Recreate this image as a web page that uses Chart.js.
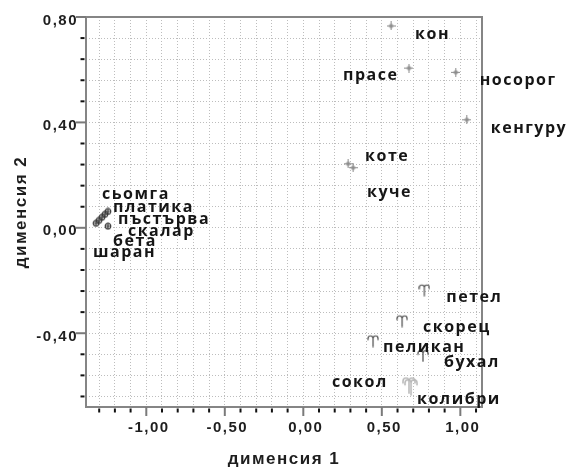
<!DOCTYPE html>
<html>
<head>
<meta charset="utf-8">
<script src="https://cdn.jsdelivr.net/npm/chart.js@4/dist/chart.umd.min.js"></script>
<style>
  html, body { margin: 0; padding: 0; background: #fff; }
  canvas { display: block; }
</style>
</head>
<body>
<canvas id="mds" width="567" height="468"></canvas>
<script>
// Object coordinates in the two-dimensional space
const animals = ['кон', 'прасе', 'носорог', 'кенгуру', 'коте', 'куче',
                 'сьомга', 'платика', 'пъстърва', 'скалар', 'бета', 'шаран',
                 'петел', 'скорец', 'пеликан', 'бухал', 'сокол', 'колибри'];
const dim1 = [0.559, 0.673, 0.971, 1.041, 0.285, 0.317,
              -1.282, -1.263, -1.244, -1.244, -1.301, -1.320,
              0.771, 0.629, 0.444, 0.762, 0.673, 0.686];
const dim2 = [0.766, 0.606, 0.590, 0.410, 0.243, 0.228,
              0.040, 0.051, 0.062, 0.006, 0.028, 0.017,
              -0.235, -0.352, -0.428, -0.484, -0.594, -0.601];
const kinds = ['mammal', 'mammal', 'mammal', 'mammal', 'mammal', 'mammal',
               'fish', 'fish', 'fish', 'fish', 'fish', 'fish',
               'bird', 'bird', 'bird', 'bird', 'birdLight', 'birdLight'];

// Axis ticks
const xMajorTicks = [-1, -0.5, 0, 0.5, 1];
const xTickLabels = ['-1,00', '-0,50', '0,00', '0,50', '1,00'];
const yMajorTicks = [0.8, 0.4, 0, -0.4];
const yTickLabels = ['0,80', '0,40', '0,00', '-0,40'];

// Label placement relative to each marker (pixels: dx to text start, dy to text middle)
const labelOffsets = [[24, 9], [-66, 7], [24, 8], [24, 9], [17, -7], [14, 25],
                      [0, -23], [8, -7], [10, 8.5], [20, 5], [14, 21], [-3, 29.5],
                      [22, 8], [21, 7], [10, 7], [21, 7], [-77, -1.5], [6, 13]];

// ---- marker glyphs ----
function makeCanvas(w, h, draw) {
  const c = document.createElement('canvas');
  c.width = w; c.height = h;
  draw(c.getContext('2d'), w, h);
  return c;
}
// ram-horn symbol: a stem with two rounded horns hanging outward
function ariesPath(g, w, h) {
  const cx = w / 2, r = (w - 2) / 4, y0 = h * 0.34;
  g.beginPath();
  g.moveTo(cx, h - 0.5);
  g.lineTo(cx, y0);
  g.arc(cx - r, y0, r, 0, Math.PI, true);
  g.lineTo(cx - 2 * r, y0 + h * 0.12);
  g.moveTo(cx, y0);
  g.arc(cx + r, y0, r, Math.PI, 0, false);
  g.lineTo(cx + 2 * r, y0 + h * 0.12);
  g.stroke();
}
const markers = {
  mammal: makeCanvas(9, 9, (g) => {
    g.fillStyle = '#a3a3a3';
    g.beginPath();
    g.moveTo(4.5, 1.5); g.lineTo(7.5, 4.5); g.lineTo(4.5, 7.5); g.lineTo(1.5, 4.5);
    g.closePath(); g.fill();
    g.strokeStyle = '#8c8c8c'; g.lineWidth = 1;
    g.beginPath(); g.moveTo(4.5, 0); g.lineTo(4.5, 9); g.moveTo(0, 4.5); g.lineTo(9, 4.5); g.stroke();
  }),
  fish: makeCanvas(8, 8, (g) => {
    g.strokeStyle = '#3a3a3a'; g.lineWidth = 1.2;
    g.beginPath(); g.arc(4, 4, 2.8, 0, Math.PI * 2); g.stroke();
    g.beginPath(); g.moveTo(4, 1.5); g.lineTo(4, 6.5); g.moveTo(1.5, 4); g.lineTo(6.5, 4); g.stroke();
  }),
  bird: makeCanvas(12, 14, (g, w, h) => {
    g.strokeStyle = '#4a4a4a'; g.lineWidth = 1.2; ariesPath(g, w, h);
  }),
  birdLight: makeCanvas(14, 20, (g, w, h) => {
    g.strokeStyle = '#b8b8b8'; g.lineWidth = 1.5; ariesPath(g, w, h);
  })
};

const kindOrder = ['mammal', 'fish', 'bird', 'birdLight'];
const datasets = kindOrder.map(k => ({
  label: k,
  data: animals.map((n, i) => i).filter(i => kinds[i] === k).map(i => ({ x: dim1[i], y: dim2[i] })),
  pointStyle: markers[k],
  pointRadius: 5,
  showLine: false
}));

function majorIndex(list, v) {
  return list.findIndex(m => Math.abs(m - v) < 1e-6);
}

const TEXT_SPACING = '1.5px';

// Frame, tick marks and object labels
const decor = {
  id: 'decor',
  beforeLayout(chart) { chart.ctx.letterSpacing = TEXT_SPACING; },
  beforeDraw(chart) { chart.ctx.letterSpacing = TEXT_SPACING; },
  beforeDatasetsDraw(chart) {
    const { ctx, chartArea: a } = chart;
    ctx.save();
    ctx.strokeStyle = '#858585';
    ctx.lineWidth = 2;
    ctx.strokeRect(a.left, a.top, a.right - a.left, a.bottom - a.top);
    ctx.restore();
  },
  afterDraw(chart) {
    const { ctx, chartArea: a, scales } = chart;
    ctx.save();
    ctx.lineWidth = 2;
    scales.y.ticks.forEach(t => {
      const p = scales.y.getPixelForValue(t.value);
      ctx.beginPath();
      if (majorIndex(yMajorTicks, t.value) >= 0) {
        ctx.strokeStyle = '#7a7a7a';
        ctx.moveTo(a.left - 10, p); ctx.lineTo(a.left, p);
      } else {
        ctx.strokeStyle = '#111';
        ctx.moveTo(a.left - 5.5, p); ctx.lineTo(a.left - 1.5, p);
      }
      ctx.stroke();
    });
    scales.x.ticks.forEach(t => {
      const p = scales.x.getPixelForValue(t.value);
      ctx.beginPath();
      if (majorIndex(xMajorTicks, t.value) >= 0) {
        ctx.strokeStyle = '#7a7a7a';
        ctx.moveTo(p, a.bottom); ctx.lineTo(p, a.bottom + 9);
      } else {
        ctx.strokeStyle = '#111';
        ctx.moveTo(p, a.bottom + 1.5); ctx.lineTo(p, a.bottom + 5.5);
      }
      ctx.stroke();
    });
    ctx.restore();
  },
  afterDatasetsDraw(chart) {
    const { ctx, scales } = chart;
    ctx.save();
    ctx.font = 'bold 16px "Open Sans"';
    ctx.letterSpacing = TEXT_SPACING;
    ctx.fillStyle = '#161616';
    ctx.textAlign = 'left';
    ctx.textBaseline = 'alphabetic';
    animals.forEach((name, i) => {
      const px = scales.x.getPixelForValue(dim1[i]);
      const py = scales.y.getPixelForValue(dim2[i]);
      const [dx, dy] = labelOffsets[i];
      ctx.fillText(name, px + dx, py + dy + 4.5);
    });
    ctx.restore();
  }
};

const tickFont = { family: 'Liberation Sans', weight: 'bold', size: 15 };
const titleFont = { family: 'Liberation Sans', weight: 'bold', size: 17, lineHeight: 1 };

new Chart(document.getElementById('mds'), {
  type: 'scatter',
  data: { datasets },
  options: {
    responsive: false,
    animation: false,
    events: [],
    layout: { padding: { top: 14, right: 85, left: 0, bottom: 0 } },
    plugins: { legend: { display: false }, tooltip: { enabled: false } },
    scales: {
      x: {
        type: 'linear',
        min: -1.384,
        max: 1.138,
        afterBuildTicks(scale) {
          const t = [];
          for (let k = -13; k <= 11; k++) t.push({ value: k / 10 });
          scale.ticks = t;
        },
        afterFit(scale) { scale.height = 61; },
        ticks: {
          autoSkip: false,
          maxRotation: 0,
          padding: 12,
          labelOffset: 2.5,
          color: '#1e1e1e',
          font: tickFont,
          callback(v) { const i = majorIndex(xMajorTicks, v); return i >= 0 ? xTickLabels[i] : ''; }
        },
        grid: { color: '#bdbdbd', lineWidth: 1, drawTicks: false },
        border: { display: false, dash: [1, 2] },
        title: { display: true, text: 'дименсия 1', color: '#1e1e1e', font: titleFont, padding: { top: 0, bottom: 0 } }
      },
      y: {
        type: 'linear',
        min: -0.68,
        max: 0.8,
        afterBuildTicks(scale) {
          const t = [];
          for (let k = -8; k <= 10; k++) t.push({ value: Math.round(k * 8) / 100 });
          scale.ticks = t;
        },
        afterFit(scale) { scale.width = 86; },
        ticks: {
          autoSkip: false,
          padding: 8,
          labelOffset: 3.5,
          color: '#1e1e1e',
          font: tickFont,
          callback(v) { const i = majorIndex(yMajorTicks, v); return i >= 0 ? yTickLabels[i] : ''; }
        },
        grid: { color: '#bdbdbd', lineWidth: 1, drawTicks: false },
        border: { display: false, dash: [1, 2] },
        title: { display: true, text: 'дименсия 2', color: '#1e1e1e', font: titleFont, padding: { top: 13, bottom: 0 } }
      }
    }
  },
  plugins: [decor]
});
</script>
</body>
</html>
